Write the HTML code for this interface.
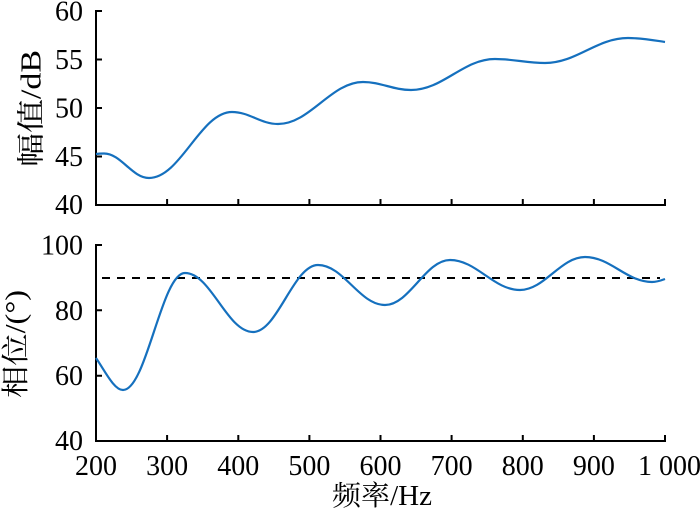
<!DOCTYPE html>
<html>
<head>
<meta charset="utf-8">
<style>
html,body{margin:0;padding:0;background:#fff;}
svg{display:block;}
text{font-family:"Liberation Serif","Noto Serif CJK SC",serif;fill:#000;}
</style>
</head>
<body>
<svg width="700" height="511" viewBox="0 0 700 511" xmlns="http://www.w3.org/2000/svg">
<!-- Top axes -->
<g stroke="#000" stroke-width="2" fill="none">
<path d="M96,10 V205 H666"/>
<path d="M96,11 H102 M96,59.5 H102 M96,108 H102 M96,156.5 H102"/>
<path d="M167.1,205 V199 M238.3,205 V199 M309.4,205 V199 M380.5,205 V199 M451.6,205 V199 M522.8,205 V199 M593.9,205 V199 M665,205 V199"/>
</g>
<!-- Bottom axes -->
<g stroke="#000" stroke-width="2" fill="none">
<path d="M96,244 V441 H666"/>
<path d="M96,245 H102 M96,310.3 H102 M96,375.7 H102"/>
<path d="M167.1,441 V435 M238.3,441 V435 M309.4,441 V435 M380.5,441 V435 M451.6,441 V435 M522.8,441 V435 M593.9,441 V435 M665,441 V435"/>
</g>
<!-- dashed reference -->
<path d="M102,278 H660" stroke="#000" stroke-width="2" stroke-dasharray="8 7" fill="none"/>
<!-- top curve -->
<path d="M96,154 C99,153.6 101,153.5 104,153.5 C121,153.5 132,178 149,178 C180.5,178 200.5,112 232,112 C249.5,112 260.5,124 278,124 C310,124 331,82 363,82 C381,82 393,90 411,90 C443,90 463,59 495,59 C514,59 526,63 545,63 C576.5,63 596.5,38 628,38 C642,38 652,40 665,42" stroke="#1570be" stroke-width="2.2" fill="none"/>
<!-- bottom curve -->
<path d="M96,358 C105,371 114,390 123,390 C146.5,390 161.5,273 185,273 C211,273 227,332 253,332 C277.5,332 293.5,265 318,265 C343.5,265 359.5,305 385,305 C409.5,305 425.5,260 450,260 C476.5,260 493.5,290 520,290 C544.5,290 560.5,257 585,257 C610.5,257 626.5,282 652,282 C657,282 661,280.5 665,279" stroke="#1570be" stroke-width="2.2" fill="none"/>
<!-- y tick labels top -->
<g font-size="28" text-anchor="end">
<text x="83" y="20.5">60</text>
<text x="83" y="69">55</text>
<text x="83" y="117.5">50</text>
<text x="83" y="166">45</text>
<text x="83" y="214">40</text>
</g>
<!-- y tick labels bottom -->
<g font-size="28" text-anchor="end">
<text x="83" y="254.5">100</text>
<text x="83" y="319.8">80</text>
<text x="83" y="385">60</text>
<text x="83" y="450">40</text>
</g>
<!-- x tick labels -->
<g font-size="28" text-anchor="middle">
<text x="96" y="475">200</text>
<text x="167.1" y="475">300</text>
<text x="238.3" y="475">400</text>
<text x="309.4" y="475">500</text>
<text x="380.5" y="475">600</text>
<text x="451.6" y="475">700</text>
<text x="522.8" y="475">800</text>
<text x="593.9" y="475">900</text>
</g>
<text x="638" y="475" font-size="28">1 000</text>
<!-- axis titles -->
<text transform="translate(40.6,108.5) rotate(-90)" font-size="28" text-anchor="middle" textLength="117" lengthAdjust="spacingAndGlyphs">幅值/dB</text>
<text transform="translate(25,344) rotate(-90)" font-size="28" text-anchor="middle" textLength="108" lengthAdjust="spacingAndGlyphs">相位/(°)</text>
<text x="332" y="505" font-size="28" textLength="100" lengthAdjust="spacingAndGlyphs">频率/Hz</text>
</svg>
</body>
</html>
